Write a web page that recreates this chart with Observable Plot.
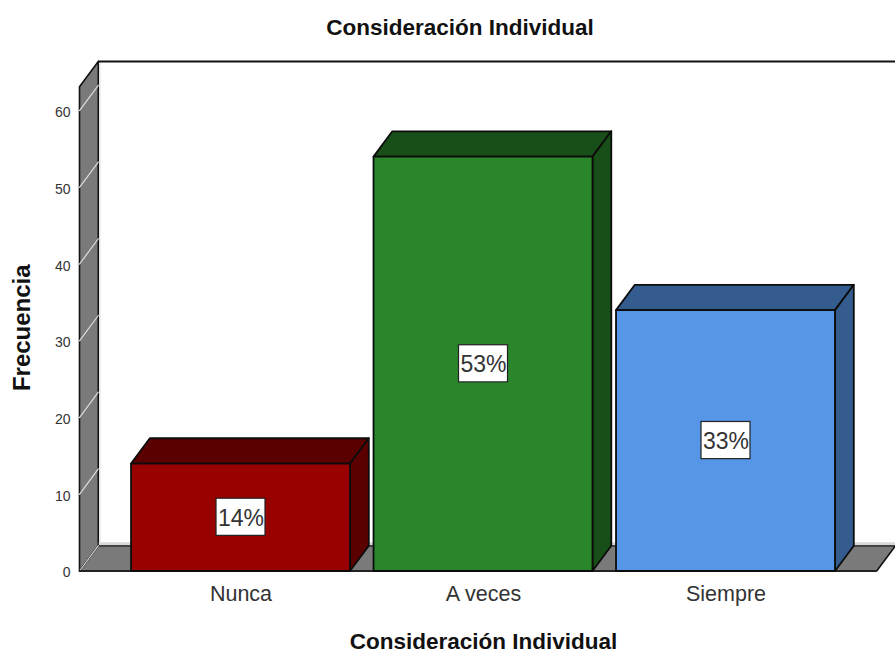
<!DOCTYPE html>
<html lang="es">
<head>
<meta charset="utf-8">
<script src="https://cdn.jsdelivr.net/npm/d3@7"></script>
<script src="https://cdn.jsdelivr.net/npm/@observablehq/plot@0.6"></script>
<style>
  html, body { margin: 0; padding: 0; background: #fff; overflow: hidden; }
  #title { height: 46px; width: 920px; text-align: center; font: bold 22.5px/56px "Liberation Sans", Arial, sans-serif; color: #111; }
  svg { display: block; }
</style>
</head>
<body>
<div id="title">Consideración Individual</div>
<div id="chart"></div>
<script>
const categories = ["Nunca", "A veces", "Siempre"];
const frequencies = [14, 54, 34];
const percentLabels = ["14%", "53%", "33%"];
const frontColors = ["#990000", "#2a862a", "#5596e6"];
const shadeColors = ["#5a0000", "#184f18", "#345c8f"];
const yTicks = [0, 10, 20, 30, 40, 50, 60];

const xMin = -0.666, xMax = 2.699, yMax = 66.4;
const depthX = 0.0775, depthY = 3.3, wallTop = yMax - depthY;
const barHalf = 0.4515, boxHalfX = 0.101, boxHalfY = 2.42;

const polygons = [];
function poly(id, fill, pts) {
  [...pts, pts[0]].forEach(([x, y]) => polygons.push({id, fill, x, y}));
}
poly("wall", "#7a7a7a", [[xMin, 0], [xMin, wallTop], [xMin + depthX, yMax], [xMin + depthX, depthY]]);
poly("floor", "#7a7a7a", [[xMin, 0], [xMin + depthX, depthY], [xMax, depthY], [xMax - depthX, 0]]);

const barPolys = [];
categories.forEach((c, i) => {
  const v = frequencies[i], l = i - barHalf - 0.002, r = i + barHalf - 0.002;
  const add = (id, fill, pts) => [...pts, pts[0]].forEach(([x, y]) => barPolys.push({id: c + id, fill, x, y}));
  add("top", shadeColors[i], [[l, v], [l + depthX, v + depthY], [r + depthX, v + depthY], [r, v]]);
  add("side", shadeColors[i], [[r, 0], [r, v], [r + depthX, v + depthY], [r + depthX, depthY]]);
  add("front", frontColors[i], [[l, 0], [l, v], [r, v], [r, 0]]);
});

const wallTicks = yTicks.flatMap(t => [
  {t, x: xMin, y: t},
  {t, x: xMin + depthX, y: t + depthY}
]);
const boxes = categories.map((c, i) => ({
  x1: i - boxHalfX, x2: i + boxHalfX,
  y1: frequencies[i] / 2 - boxHalfY, y2: frequencies[i] / 2 + boxHalfY,
  x: i, y: frequencies[i] / 2, label: percentLabels[i]
}));

const chart = Plot.plot({
  width: 895,
  height: 608,
  marginLeft: 79,
  marginRight: 0,
  marginTop: 15,
  marginBottom: 83.5,
  style: {fontFamily: '"Liberation Sans", Arial, sans-serif', background: "#fff", color: "#333"},
  x: {domain: [xMin, xMax], axis: null},
  y: {domain: [0, yMax], axis: null},
  marks: [
    Plot.line(polygons, {x: "x", y: "y", z: "id", fill: "fill", stroke: "#111", strokeWidth: 1.6, curve: "linear"}),
    Plot.ruleY([depthY + 0.25], {x1: xMin + depthX + 0.004, x2: xMax, stroke: "#d8d8d8", strokeWidth: 3}),
    Plot.ruleX([xMin + depthX + 0.007], {y1: depthY + 0.2, y2: yMax, stroke: "#e2e2e2", strokeWidth: 1}),
    Plot.line(wallTicks, {x: "x", y: "y", z: "t", stroke: "#dcdcdc", strokeWidth: 1.2, curve: "linear"}),
    Plot.ruleY([yMax], {x1: xMin + depthX, x2: xMax, stroke: "#111", strokeWidth: 1.8}),
    Plot.ruleY([0], {x1: xMin, x2: xMax - depthX, stroke: "#222", strokeWidth: 1.8}),
    Plot.line(barPolys, {x: "x", y: "y", z: "id", fill: "fill", stroke: "#0c0c0c", strokeWidth: 1.8, curve: "linear"}),
    Plot.rect(boxes, {x1: "x1", x2: "x2", y1: "y1", y2: "y2", fill: "#fff", stroke: "#222", strokeWidth: 1.2}),
    Plot.text(boxes, {x: "x", y: "y", dy: 1, text: "label", fontSize: 23, fill: "#333", textAnchor: "middle"}),
    Plot.axisY({ticks: yTicks, tickSize: 0, tickPadding: 9, dy: 2, label: null, fontSize: 14, anchor: "left"}),
    Plot.axisX({ticks: [0, 1, 2], tickFormat: i => categories[i], tickSize: 0, tickPadding: 15, label: null, fontSize: 21.5, anchor: "bottom"}),
    Plot.text(["Consideración Individual"], {x: [1], frameAnchor: "bottom", lineAnchor: "middle", dy: 70.5, fontSize: 22.5, fontWeight: "bold", fill: "#111"}),
    Plot.text(["Frecuencia"], {y: [31.7], frameAnchor: "left", textAnchor: "middle", dx: -57, rotate: -90, fontSize: 24, fontWeight: "bold", fill: "#111"})
  ]
});
document.getElementById("chart").append(chart);
</script>
</body>
</html>
